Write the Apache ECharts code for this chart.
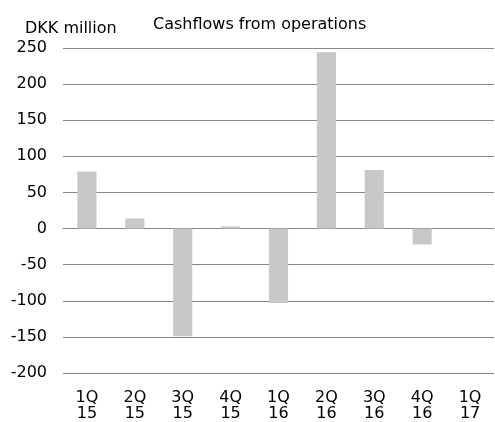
<!DOCTYPE html>
<html><head><meta charset="utf-8">
<script src="https://cdn.jsdelivr.net/npm/echarts@6/dist/echarts.min.js"></script>
<style>html,body{margin:0;padding:0;background:#fff}#c{width:495px;height:422px}</style>
</head><body><div id="c"></div>
<script>
const categories = ["1Q\n15","2Q\n15","3Q\n15","4Q\n15","1Q\n16","2Q\n16","3Q\n16","4Q\n16","1Q\n17"];
const cashflows = [79, 14, -149, 3, -103, 244, 81, -22, null];
const yTicks = {min: -200, max: 250, interval: 50};

const font = "DejaVu Sans, Verdana, sans-serif";
const chart = echarts.init(document.getElementById('c'));
chart.setOption({
  animation: false,
  backgroundColor: '#fff',
  title: [
    {text: 'Cashflows from operations', left: 153, top: 17, padding: 0, textStyle: {fontFamily: font, fontSize: 16, fontWeight: 'normal', color: '#000'}},
    {text: 'DKK million', left: 25, top: 21, padding: 0, textStyle: {fontFamily: font, fontSize: 16, fontWeight: 'normal', color: '#000'}}
  ],
  grid: {left: 63, right: 1, top: 48, bottom: 48, containLabel: false},
  xAxis: {
    type: 'category', data: categories,
    axisLine: {show: true, onZero: true, lineStyle: {color: '#868686', width: 1}},
    axisTick: {show: false},
    axisLabel: {fontFamily: font, fontSize: 16, color: '#000', lineHeight: 16, margin: 17},
    position: 'bottom'
  },
  yAxis: {
    type: 'value', min: yTicks.min, max: yTicks.max, interval: yTicks.interval,
    axisLine: {show: false}, axisTick: {show: false},
    axisLabel: {fontFamily: font, fontSize: 16, color: '#000', margin: 16},
    splitLine: {lineStyle: {color: '#868686', width: 1}}
  },
  series: [{
    type: 'bar', data: cashflows, barWidth: '40%',
    itemStyle: {color: '#c8c8c8'}
  }]
});
</script></body></html>
